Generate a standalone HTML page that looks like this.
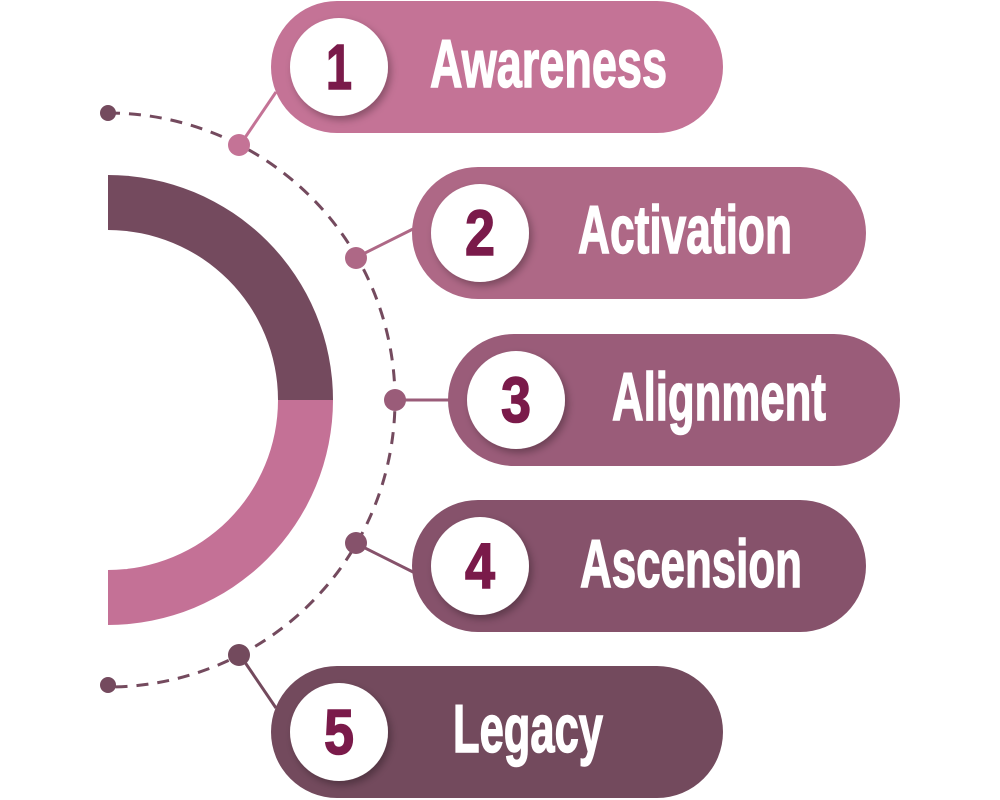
<!DOCTYPE html>
<html><head><meta charset="utf-8"><style>
html,body{margin:0;padding:0;background:#fff;width:1000px;height:800px;overflow:hidden}
text{font-family:"Liberation Sans Narrow","Liberation Sans",sans-serif;font-weight:bold}
</style></head><body>
<svg width="1000" height="800" viewBox="0 0 1000 800" xmlns="http://www.w3.org/2000/svg">
<defs>
<filter id="sh" x="-30%" y="-30%" width="160%" height="160%"><feDropShadow dx="3" dy="4" stdDeviation="4" flood-color="#000" flood-opacity="0.3"/></filter>
</defs>
<path d="M108 175 A225 225 0 0 1 333 400 L278 400 A170 170 0 0 0 108 230 Z" fill="#744a5e"/>
<path d="M333 400 A225 225 0 0 1 108 625 L108 570 A170 170 0 0 0 278 400 Z" fill="#c47196"/>
<path d="M108 113 A287 287 0 0 1 108 687" fill="none" stroke="#744a5e" stroke-width="3" stroke-dasharray="12 9"/>
<circle cx="108" cy="113" r="8" fill="#744a5e"/>
<circle cx="108" cy="685" r="8" fill="#744a5e"/>
<g stroke-width="3">
<line x1="240" y1="145" x2="276" y2="92" stroke="#c47396"/>
<line x1="355" y1="258" x2="415" y2="228" stroke="#ae6886"/>
<line x1="395" y1="400" x2="450" y2="400" stroke="#9a5c79"/>
<line x1="355" y1="543" x2="415" y2="573" stroke="#86526b"/>
<line x1="240" y1="655" x2="276" y2="708" stroke="#734a5d"/>
</g>
<circle cx="239" cy="145" r="11" fill="#c47396"/>
<circle cx="356" cy="258" r="11" fill="#ae6886"/>
<circle cx="395" cy="400" r="11" fill="#9a5c79"/>
<circle cx="356" cy="543" r="11" fill="#86526b"/>
<circle cx="239" cy="655" r="11" fill="#734a5d"/>
<rect x="271" y="1" width="452" height="132" rx="66" fill="#c47396"/>
<rect x="412" y="167" width="454" height="132" rx="66" fill="#ae6886"/>
<rect x="448" y="334" width="452" height="132" rx="66" fill="#9a5c79"/>
<rect x="412" y="500" width="454" height="132" rx="66" fill="#86526b"/>
<rect x="271" y="666" width="452" height="132" rx="66" fill="#734a5d"/>
<g fill="#fff" filter="url(#sh)">
<circle cx="339" cy="67" r="49"/>
<circle cx="480" cy="233" r="49"/>
<circle cx="516" cy="400" r="49"/>
<circle cx="480" cy="566" r="49"/>
<circle cx="339" cy="732" r="49"/>
</g>
<g fill="#7a1a4a" stroke="#7a1a4a" stroke-width="1.5" font-size="64" text-anchor="middle">
<text x="339" y="89" textLength="26" lengthAdjust="spacingAndGlyphs">1</text>
<text x="480" y="255" textLength="30" lengthAdjust="spacingAndGlyphs">2</text>
<text x="516" y="422" textLength="30" lengthAdjust="spacingAndGlyphs">3</text>
<text x="480" y="588" textLength="30" lengthAdjust="spacingAndGlyphs">4</text>
<text x="339" y="754" textLength="30" lengthAdjust="spacingAndGlyphs">5</text>
</g>
<g fill="#fff" stroke="#fff" stroke-width="1.5" font-size="68">
<text x="430" y="87" textLength="237" lengthAdjust="spacingAndGlyphs">Awareness</text>
<text x="578" y="253" textLength="214" lengthAdjust="spacingAndGlyphs">Activation</text>
<text x="612" y="420" textLength="214" lengthAdjust="spacingAndGlyphs">Alignment</text>
<text x="580" y="587" textLength="222" lengthAdjust="spacingAndGlyphs">Ascension</text>
<text x="453" y="752" textLength="150" lengthAdjust="spacingAndGlyphs">Legacy</text>
</g>
</svg>
</body></html>
